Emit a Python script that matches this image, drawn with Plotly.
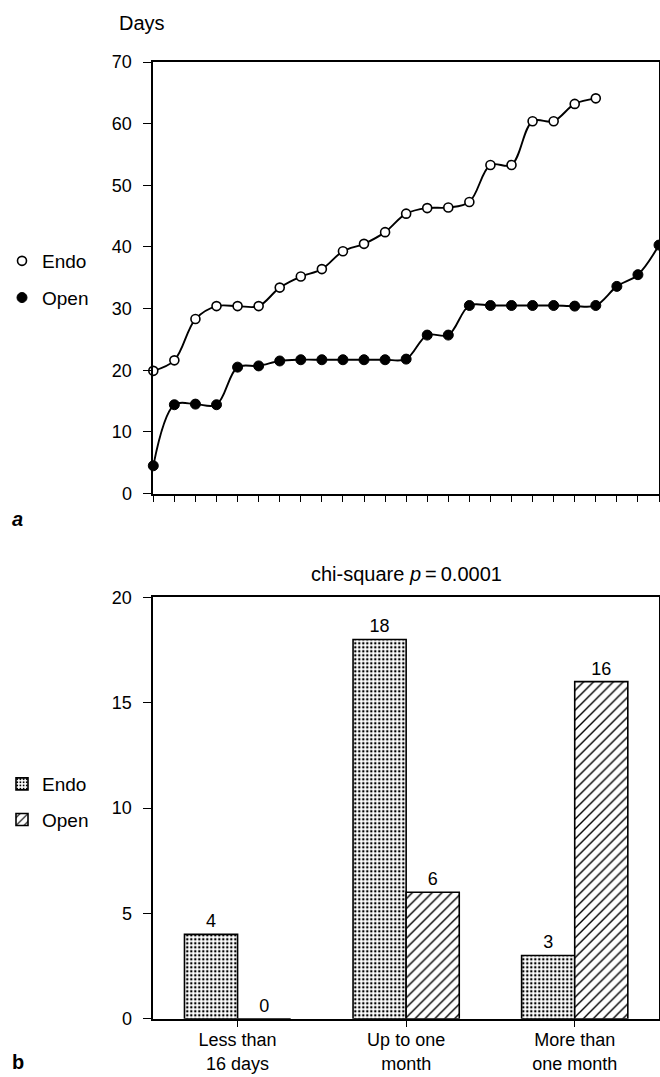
import plotly.graph_objects as go

W, H = 660, 1077

# ---- Data (panel a) ----
idx_endo = list(range(22))
endo_days = [19.9, 21.6, 28.3, 30.4, 30.4, 30.4, 33.4, 35.2, 36.4, 39.3, 40.5, 42.4,
             45.4, 46.3, 46.4, 47.3, 53.3, 53.3, 60.4, 60.4, 63.2, 64.1]
idx_open = list(range(25))
open_days = [4.5, 14.4, 14.5, 14.4, 20.5, 20.7, 21.5, 21.7, 21.7, 21.7, 21.7, 21.7,
             21.8, 25.7, 25.7, 30.5, 30.5, 30.5, 30.5, 30.5, 30.4, 30.5, 33.6, 35.5, 40.3]
y_ticks_a = [0, 10, 20, 30, 40, 50, 60, 70]

# ---- Data (panel b) ----
categories = ["Less than<br>16 days", "Up to one<br>month", "More than<br>one month"]
endo_counts = [4, 18, 3]
open_counts = [0, 6, 16]
y_ticks_b = [0, 5, 10, 15, 20]

FONT = "Liberation Sans, Arial, Helvetica, sans-serif"
FS = 18      # tick labels / numbers
FT = 20      # text labels


def px_x(p):
    return p / W


def px_y(p):
    return 1 - p / H


fig = go.Figure()

# Panel a: smooth lines
for xs, ys in ((idx_endo, endo_days), (idx_open, open_days)):
    fig.add_trace(go.Scatter(x=xs, y=ys, mode="lines",
                             line=dict(color="black", width=1.9, shape="spline", smoothing=1.0),
                             showlegend=False, hoverinfo="skip", xaxis="x", yaxis="y"))
# markers
fig.add_trace(go.Scatter(x=idx_endo, y=endo_days, mode="markers", name="Endo",
                         marker=dict(symbol="circle", size=9, color="white",
                                     line=dict(color="black", width=1.6)),
                         cliponaxis=False, legend="legend", legendgroup="e",
                         xaxis="x", yaxis="y"))
fig.add_trace(go.Scatter(x=idx_open, y=open_days, mode="markers", name="Open",
                         marker=dict(symbol="circle", size=10, color="black",
                                     line=dict(color="black", width=1)),
                         cliponaxis=False, legend="legend", legendgroup="o",
                         xaxis="x", yaxis="y"))

# Panel b: bars
fig.add_trace(go.Bar(x=categories, y=endo_counts, name="Endo",
                     text=[str(v) for v in endo_counts], textposition="outside",
                     textfont=dict(family=FONT, size=FS, color="black"),
                     marker=dict(color="white", line=dict(color="black", width=1.6),
                                 pattern=dict(shape=".", fgcolor="black", bgcolor="white",
                                              size=4, solidity=0.3)),
                     cliponaxis=False, legend="legend2", legendgroup="be",
                     xaxis="x2", yaxis="y2"))
fig.add_trace(go.Bar(x=categories, y=open_counts, name="Open",
                     text=[str(v) for v in open_counts], textposition="outside",
                     textfont=dict(family=FONT, size=FS, color="black"),
                     marker=dict(color="white", line=dict(color="black", width=1.6),
                                 pattern=dict(shape="/", fgcolor="black", bgcolor="white",
                                              size=7, solidity=0.2)),
                     cliponaxis=False, legend="legend2", legendgroup="bo",
                     xaxis="x2", yaxis="y2"))

axis_common = dict(showline=True, linecolor="black", linewidth=1.6, mirror=True,
                   ticks="outside", tickcolor="black", tickwidth=1.4,
                   showgrid=False, zeroline=False, automargin=False)

xdom = [px_x(153.3), px_x(659)]
tickf = dict(family=FONT, size=FS, color="black")

fig.update_layout(
    template="none",
    width=W, height=H, autosize=False,
    margin=dict(l=0, r=0, t=0, b=0, pad=0),
    paper_bgcolor="white", plot_bgcolor="white",
    font=dict(family=FONT, size=FT, color="black"),
    barmode="group", bargap=0.37, bargroupgap=0.0,
    xaxis=dict(domain=xdom, anchor="y", range=[0, 24], tickvals=idx_open,
               showticklabels=False, ticklen=7, tickfont=tickf, **axis_common),
    yaxis=dict(domain=[px_y(493.5), px_y(62)], anchor="x", range=[0, 70],
               tickvals=y_ticks_a, ticklen=9, ticklabelstandoff=7, tickfont=tickf,
               **axis_common),
    xaxis2=dict(domain=xdom, anchor="y2", range=[-0.5, 2.5], ticklen=6,
                ticklabelstandoff=-2,
                tickfont=dict(family=FONT, size=18, color="black"), **axis_common),
    yaxis2=dict(domain=[px_y(1018.7), px_y(597.3)], anchor="x2", range=[0, 20],
                tickvals=y_ticks_b, ticklen=9, ticklabelstandoff=7, tickfont=tickf,
                **axis_common),
    legend=dict(x=px_x(2), y=px_y(242), xanchor="left", yanchor="top",
                bgcolor="rgba(0,0,0,0)", borderwidth=0, tracegroupgap=9,
                traceorder="grouped", font=dict(family=FONT, size=FT - 1, color="black")),
    legend2=dict(x=px_x(2), y=px_y(765), xanchor="left", yanchor="top",
                 bgcolor="rgba(0,0,0,0)", borderwidth=0, tracegroupgap=8,
                 traceorder="grouped", font=dict(family=FONT, size=FT - 1, color="black")),
    annotations=[
        dict(text="Days", x=px_x(117), y=px_y(23), xref="paper", yref="paper",
             xanchor="left", yanchor="middle", showarrow=False,
             font=dict(family=FONT, size=FT, color="black")),
        dict(text="<b><i>a</i></b>", x=px_x(10), y=px_y(519), xref="paper", yref="paper",
             xanchor="left", yanchor="middle", showarrow=False,
             font=dict(family=FONT, size=FT, color="black")),
        dict(text="<b>b</b>", x=px_x(10), y=px_y(1062), xref="paper", yref="paper",
             xanchor="left", yanchor="middle", showarrow=False,
             font=dict(family=FONT, size=FT, color="black")),
        dict(text="chi-square <i>p</i>\u2009=\u20090.0001", x=px_x(406), y=px_y(574),
             xref="paper", yref="paper", xanchor="center", yanchor="middle",
             showarrow=False, font=dict(family=FONT, size=FT, color="black")),
    ],
)

fig.write_html("out.html", config={"displayModeBar": False},
               post_script="document.body.style.margin='0px';document.body.style.padding='0px';document.body.style.overflow='hidden';")
